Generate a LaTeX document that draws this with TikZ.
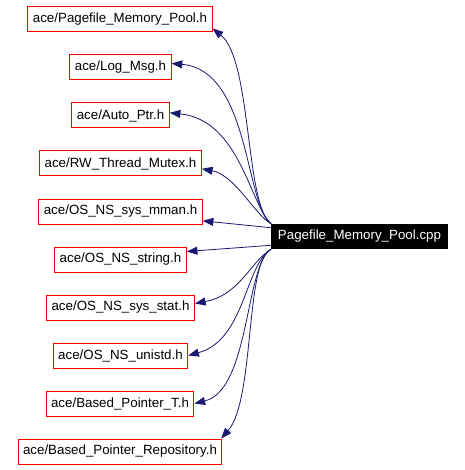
\documentclass[tikz,border=0pt]{standalone}
\usepackage{fontspec}
\setmainfont{Liberation Sans}
\usepackage{xcolor}
\usepackage{tikz}
\usetikzlibrary{arrows.meta}
\definecolor{edgecolor}{RGB}{25,25,112}

\begin{document}
\begin{tikzpicture}[x=0.75pt, y=-0.75pt,
    hfile/.style={draw=red, line width=0.75pt, fill=white, minimum height=18.75pt, inner xsep=3.75pt, inner ysep=0pt, font=\fontsize{10}{12}\selectfont},
    srcfile/.style={fill=black, text=white, minimum height=18.75pt, inner xsep=5pt, inner ysep=0pt, font=\fontsize{10}{12}\selectfont},
    dep/.style={draw=edgecolor, line width=0.6pt, -{Triangle[length=8pt, width=6pt]}}]
    \useasboundingbox (0,0) rectangle (464,470);

    % the source file
    \node[srcfile] (cpp) at (359.5,236.5) {Pagefile\_Memory\_Pool.cpp};

    % included headers
    \node[hfile] (pool) at (120,19.5) {ace/Pagefile\_Memory\_Pool.h};
    \node[hfile] (logmsg) at (120.5,67.5) {ace/Log\_Msg.h};
    \node[hfile] (autoptr) at (120.5,115.5) {ace/Auto\_Ptr.h};
    \node[hfile] (rwmutex) at (120.5,163.5) {ace/RW\_Thread\_Mutex.h};
    \node[hfile] (mman) at (120.5,211.5) {ace/OS\_NS\_sys\_mman.h};
    \node[hfile] (nsstring) at (120.5,259.5) {ace/OS\_NS\_string.h};
    \node[hfile] (sysstat) at (120.5,307.5) {ace/OS\_NS\_sys\_stat.h};
    \node[hfile] (unistd) at (120.5,355.5) {ace/OS\_NS\_unistd.h};
    \node[hfile] (bptrt) at (120,403.5) {ace/Based\_Pointer\_T.h};
    \node[hfile] (bptrrepo) at (120,451.5) {ace/Based\_Pointer\_Repository.h};

    % include edges
    \draw[dep] (cpp.north west) .. controls (245,205) and (252,60) .. ([yshift=3pt]pool.south east);
    \draw[dep] (cpp.north west) .. controls (245,205) and (250,70) .. ([yshift=3pt]logmsg.east);
    \draw[dep] (cpp.north west) .. controls (250,205) and (240,120) .. ([yshift=2pt]autoptr.east);
    \draw[dep] (cpp.north west) .. controls (255,215) and (235,175) .. ([yshift=-4pt]rwmutex.east);
    \draw[dep] ([yshift=-3pt]cpp.north west) -- ([yshift=-7pt]mman.east);
    \draw[dep] ([yshift=3pt]cpp.south west) -- ([yshift=6pt]nsstring.east);
    \draw[dep] (cpp.south west) .. controls (250,262) and (240,295) .. ([yshift=3pt]sysstat.east);
    \draw[dep] (cpp.south west) .. controls (245,265) and (245,340) .. (unistd.east);
    \draw[dep] (cpp.south west) .. controls (245,265) and (250,390) .. (bptrt.east);
    \draw[dep] (cpp.south west) .. controls (245,260) and (255,400) .. ([xshift=-1pt]bptrrepo.north east);
\end{tikzpicture}
\end{document}
